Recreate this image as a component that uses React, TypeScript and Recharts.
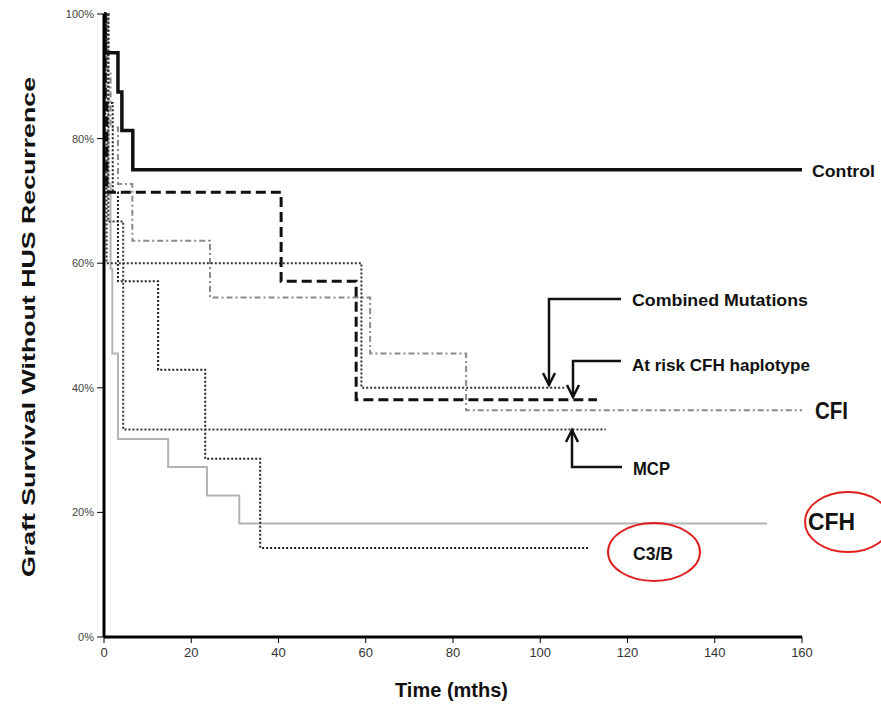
import { LineChart, Line, XAxis, YAxis } from 'recharts';

// Kaplan-Meier steps (months, % surviving)
const controlT = [0, 0.2, 3.2, 4.1, 6.6, 160];
const controlV = [100, 93.8, 87.5, 81.3, 75, 75];

const heavyDashT = [0, 0.3, 0.6, 40.6, 57.8, 113];
const heavyDashV = [100, 85.7, 71.4, 57.1, 38.1, 38.1];

const fineDotT = [0, 0.3, 0.6, 59, 106];
const fineDotV = [100, 80, 60, 40, 40];

const cfiT = [0, 0.8, 1.5, 3.2, 6.5, 24.3, 61, 83, 160];
const cfiV = [100, 90.9, 81.8, 72.7, 63.6, 54.5, 45.5, 36.4, 36.4];

const mcpT = [0, 1, 4.4, 115];
const mcpV = [100, 66.7, 33.3, 33.3];

const c3bT = [0, 1, 2, 3.2, 12.4, 23.2, 35.8, 111];
const c3bV = [100, 85.7, 71.4, 57.1, 42.9, 28.6, 14.3, 14.3];

const cfhT = [0, 0.5, 1, 1.5, 1.9, 3.2, 14.7, 23.6, 31, 152];
const cfhV = [100, 86.4, 72.7, 59.1, 45.5, 31.8, 27.3, 22.7, 18.2, 18.2];

const xTicks = [0, 20, 40, 60, 80, 100, 120, 140, 160];
const yTicks = [0, 20, 40, 60, 80, 100];

const toRows = (t: number[], v: number[]) => t.map((x, i) => ({ t: x, v: v[i] }));

const narrow = "'Liberation Sans Narrow', 'Liberation Sans', Arial, sans-serif";
const bold = "'Liberation Sans', Arial, sans-serif";

function Arrow({ d, tipX, tipY, up }: { d: string; tipX: number; tipY: number; up?: boolean }) {
  const s = up ? 1 : -1;
  return (
    <g stroke="#111" strokeWidth={2.5} fill="none">
      <path d={d} />
      <path d={`M${tipX - 6},${tipY + s * 12} L${tipX},${tipY} L${tipX + 6},${tipY + s * 12}`} />
    </g>
  );
}

export default function App() {
  return (
    <div style={{ position: 'absolute', left: 0, top: 0, width: 881, height: 709, overflow: 'hidden' }}>
      <LineChart
        width={881}
        height={709}
        margin={{ top: 14, right: 79, bottom: 42, left: 48 }}
      >
        <XAxis
          type="number"
          dataKey="t"
          domain={[0, 160]}
          ticks={xTicks}
          allowDataOverflow
          axisLine={{ stroke: '#000', strokeWidth: 3 }}
          tickLine={{ stroke: '#000', strokeWidth: 1 }}
          tickSize={6}
          tickMargin={5}
          height={30}
          tick={{ fill: '#333', fontSize: 13, fontFamily: narrow }}
        />
        <YAxis
          type="number"
          domain={[0, 100]}
          ticks={yTicks}
          width={56}
          axisLine={{ stroke: '#000', strokeWidth: 3 }}
          tickLine={{ stroke: '#000', strokeWidth: 1 }}
          tickSize={7}
          tickMargin={3}
          tickFormatter={(v) => `${v}%`}
          tick={{ fill: '#444', fontSize: 11, fontFamily: narrow }}
        />
        <Line data={toRows(cfhT, cfhV)} dataKey="v" type="stepAfter" stroke="#b4b4b4" strokeWidth={2} dot={false} isAnimationActive={false} />
        <Line data={toRows(cfiT, cfiV)} dataKey="v" type="stepAfter" stroke="#8a8a8a" strokeWidth={2} strokeDasharray="6 3 2 3" dot={false} isAnimationActive={false} />
        <Line data={toRows(c3bT, c3bV)} dataKey="v" type="stepAfter" stroke="#222" strokeWidth={2} strokeDasharray="2 2" dot={false} isAnimationActive={false} />
        <Line data={toRows(mcpT, mcpV)} dataKey="v" type="stepAfter" stroke="#333" strokeWidth={2} strokeDasharray="2 2" dot={false} isAnimationActive={false} />
        <Line data={toRows(fineDotT, fineDotV)} dataKey="v" type="stepAfter" stroke="#333" strokeWidth={2} strokeDasharray="2 2" dot={false} isAnimationActive={false} />
        <Line data={toRows(heavyDashT, heavyDashV)} dataKey="v" type="stepAfter" stroke="#111" strokeWidth={3} strokeDasharray="10 5" dot={false} isAnimationActive={false} />
        <Line data={toRows(controlT, controlV)} dataKey="v" type="stepAfter" stroke="#111" strokeWidth={3.5} dot={false} isAnimationActive={false} />
      </LineChart>

      <svg
        width={881}
        height={709}
        style={{ position: 'absolute', left: 0, top: 0, pointerEvents: 'none' }}
      >
        <text
          transform="translate(35,327) rotate(-90)"
          textAnchor="middle"
          fontFamily={bold}
          fontWeight="bold"
          fontSize={18}
          textLength={500}
          lengthAdjust="spacingAndGlyphs"
          fill="#111"
        >
          Graft Survival Without HUS Recurrence
        </text>
        <text x={395} y={697} fontFamily={narrow} fontWeight="bold" fontSize={21} textLength={113} lengthAdjust="spacingAndGlyphs" fill="#111">
          Time (mths)
        </text>

        <g fontFamily={narrow} fontWeight="bold" fill="#111">
          <text x={812} y={177} fontSize={17} textLength={63} lengthAdjust="spacingAndGlyphs">Control</text>
          <text x={632} y={306} fontSize={17} textLength={176} lengthAdjust="spacingAndGlyphs">Combined Mutations</text>
          <text x={632} y={371} fontSize={17} textLength={178} lengthAdjust="spacingAndGlyphs">At risk CFH haplotype</text>
          <text x={815} y={419} fontSize={24} textLength={33} lengthAdjust="spacingAndGlyphs">CFI</text>
          <text x={633} y={475} fontSize={19} textLength={37} lengthAdjust="spacingAndGlyphs">MCP</text>
          <text x={808} y={530} fontSize={24} textLength={47} lengthAdjust="spacingAndGlyphs">CFH</text>
          <text x={633} y={560} fontSize={19} textLength={40} lengthAdjust="spacingAndGlyphs">C3/B</text>
        </g>

        <Arrow d="M621,299 L549,299 L549,385" tipX={549} tipY={385} />
        <Arrow d="M621,361 L573,361 L573,397" tipX={573} tipY={397} />
        <Arrow d="M622,467 L572,467 L572,430" tipX={572} tipY={430} up />

        <ellipse cx={654} cy={552} rx={46} ry={29} fill="none" stroke="#e0201e" strokeWidth={2} />
        <ellipse cx={848} cy={522} rx={43} ry={30} fill="none" stroke="#e0201e" strokeWidth={2} />
      </svg>
    </div>
  );
}
